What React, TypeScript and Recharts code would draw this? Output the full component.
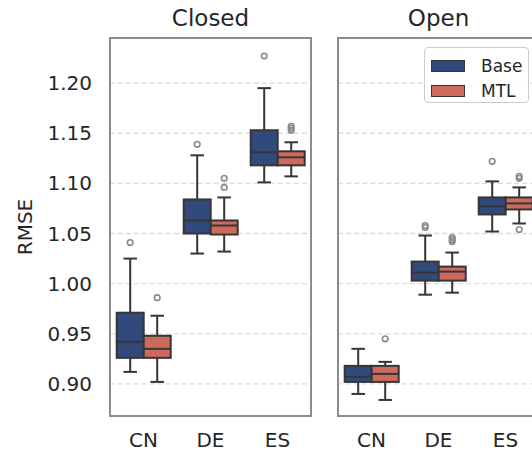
import { BarChart, Bar, XAxis, YAxis, CartesianGrid, Legend } from 'recharts'

// categories on the x axis
const categories = ['CN', 'DE', 'ES']
const yTicks = [0.9, 0.95, 1.0, 1.05, 1.1, 1.15, 1.2]
const yDomain = [0.868, 1.245]

// box stats: [lower whisker, q1, median, q3, upper whisker]
const closedBase = [
  [0.912, 0.926, 0.942, 0.971, 1.025],
  [1.030, 1.050, 1.063, 1.084, 1.128],
  [1.101, 1.118, 1.131, 1.153, 1.195],
]
const closedMtl = [
  [0.902, 0.926, 0.935, 0.948, 0.968],
  [1.032, 1.049, 1.058, 1.063, 1.086],
  [1.107, 1.118, 1.126, 1.132, 1.141],
]
const openBase = [
  [0.890, 0.902, 0.907, 0.918, 0.935],
  [0.989, 1.003, 1.011, 1.022, 1.048],
  [1.052, 1.069, 1.077, 1.086, 1.102],
]
const openMtl = [
  [0.884, 0.902, 0.910, 0.918, 0.922],
  [0.991, 1.003, 1.012, 1.017, 1.031],
  [1.060, 1.074, 1.080, 1.086, 1.096],
]

// fliers
const closedBaseOut = [[1.041], [1.139], [1.227]]
const closedMtlOut = [[0.986], [1.096, 1.105], [1.153, 1.155, 1.157]]
const openBaseOut = [[], [1.056, 1.058], [1.122]]
const openMtlOut = [[0.945], [1.042, 1.044, 1.046], [1.054, 1.105, 1.107]]

const BASE = '#32497b'
const MTL = '#cd6a5b'
const EDGE = '#363636'
const FONT = '"DejaVu Sans", sans-serif'

function makeRows(base: number[][], mtl: number[][], baseOut: number[][], mtlOut: number[][]) {
  return categories.map((cat, i) => ({ cat, base: base[i], mtl: mtl[i], baseOut: baseOut[i], mtlOut: mtlOut[i] }))
}

const closedRows = makeRows(closedBase, closedMtl, closedBaseOut, closedMtlOut)
const openRows = makeRows(openBase, openMtl, openBaseOut, openMtlOut)

function BoxShape(props: any) {
  const { x, y, width, height, stats, out, fill } = props
  const top = Math.min(y, y + height)
  const h = Math.abs(height)
  const [lo, q1, med, q3, hi] = stats
  // map value -> pixel using the bar's own [lo, hi] extent
  const pix = (v: number) => top + ((hi - v) / (hi - lo)) * h
  const cx = x + width / 2
  const cap = width / 4
  return (
    <g>
      <line x1={cx} x2={cx} y1={pix(hi)} y2={pix(q3)} stroke={EDGE} strokeWidth={2} />
      <line x1={cx} x2={cx} y1={pix(q1)} y2={pix(lo)} stroke={EDGE} strokeWidth={2} />
      <line x1={cx - cap} x2={cx + cap} y1={pix(hi)} y2={pix(hi)} stroke={EDGE} strokeWidth={2} />
      <line x1={cx - cap} x2={cx + cap} y1={pix(lo)} y2={pix(lo)} stroke={EDGE} strokeWidth={2} />
      <rect x={x} y={pix(q3)} width={width} height={pix(q1) - pix(q3)} fill={fill} stroke={EDGE} strokeWidth={2} />
      <line x1={x} x2={x + width} y1={pix(med)} y2={pix(med)} stroke={EDGE} strokeWidth={2} />
      {out.map((v: number, i: number) => (
        <circle key={i} cx={cx} cy={pix(v)} r={2.8} fill="none" stroke="#8a8a8a" strokeWidth={1.6} />
      ))}
    </g>
  )
}

function LegendBox(props: any) {
  const items = props.payload || []
  return (
    <div style={{ width: 105, height: 56, boxSizing: 'border-box', border: '1px solid #cccccc', borderRadius: 4, background: 'rgba(255,255,255,0.85)', position: 'relative', fontFamily: FONT, fontSize: 17, color: '#262626' }}>
      {items.map((it: any, i: number) => (
        <div key={it.value} style={{ position: 'absolute', left: 6, top: 8 + i * 25, height: 20, display: 'flex', alignItems: 'center' }}>
          <span style={{ display: 'inline-block', width: 34, height: 12, boxSizing: 'border-box', background: it.color, border: `1.5px solid ${EDGE}` }} />
          <span style={{ marginLeft: 16, lineHeight: '20px' }}>{it.value}</span>
        </div>
      ))}
    </div>
  )
}

const tickStyle = { fontSize: 20, fill: '#262626', fontFamily: FONT }

function Panel({ rows, showY, legend }: { rows: any[]; showY: boolean; legend: boolean }) {
  return (
    <BarChart
      width={showY ? 320 : 220}
      height={452}
      data={rows}
      margin={{ top: 38, right: 9, bottom: 0, left: showY ? 0 : 10 }}
      barCategoryGap="10%"
      barGap={0}
    >
      <CartesianGrid vertical={false} stroke="#dcdcdc" strokeDasharray="5 3" strokeWidth={1.3} />
      <XAxis dataKey="cat" axisLine={false} tickLine={false} tickSize={6} tickMargin={11} height={36} tick={tickStyle} />
      <YAxis
        type="number"
        domain={yDomain}
        ticks={yTicks}
        hide={!showY}
        width={110}
        axisLine={false}
        tickLine={false}
        tickSize={6}
        tickMargin={12}
        tick={tickStyle}
        tickFormatter={(v: number) => v.toFixed(2)}
        label={{
          content: (p: any) => {
            const cy = p.viewBox.y + p.viewBox.height / 2
            return (
              <text x={32} y={cy} transform={`rotate(-90, 32, ${cy})`} textAnchor="middle" fontSize={20} fill="#262626" fontFamily={FONT}>
                RMSE
              </text>
            )
          },
        }}
      />
      {legend && (
        <Legend
          layout="vertical"
          align="center"
          verticalAlign="middle"
          content={<LegendBox />}
          wrapperStyle={{ left: 96, top: 47, width: 'auto', height: 'auto' }}
        />
      )}
      <Bar
        name="Base"
        dataKey={(d: any) => [d.base[0], d.base[4]]}
        fill={BASE}
        isAnimationActive={false}
        shape={(p: any) => <BoxShape {...p} stats={p.payload.base} out={p.payload.baseOut} fill={BASE} />}
      />
      <Bar
        name="MTL"
        dataKey={(d: any) => [d.mtl[0], d.mtl[4]]}
        fill={MTL}
        isAnimationActive={false}
        shape={(p: any) => <BoxShape {...p} stats={p.payload.mtl} out={p.payload.mtlOut} fill={MTL} />}
      />
    </BarChart>
  )
}

const frame = { position: 'absolute' as const, top: 37, width: 203, height: 380, boxSizing: 'border-box' as const, border: '2px solid #8c8c8c', pointerEvents: 'none' as const }
const title = { position: 'absolute' as const, top: 5, width: 201, textAlign: 'center' as const, fontSize: 23, lineHeight: '26px', color: '#262626' }

export default function App() {
  return (
    <div style={{ position: 'absolute', left: 0, top: 0, width: 532, height: 452, overflow: 'hidden', background: '#fff', fontFamily: FONT }}>
      <div style={{ position: 'absolute', left: 0, top: 0 }}>
        <Panel rows={closedRows} showY={true} legend={false} />
      </div>
      <div style={{ position: 'absolute', left: 328, top: 0 }}>
        <Panel rows={openRows} showY={false} legend={true} />
      </div>
      <div style={{ ...frame, left: 109 }} />
      <div style={{ ...frame, left: 337 }} />
      <div style={{ ...title, left: 110 }}>Closed</div>
      <div style={{ ...title, left: 338 }}>Open</div>
    </div>
  )
}
